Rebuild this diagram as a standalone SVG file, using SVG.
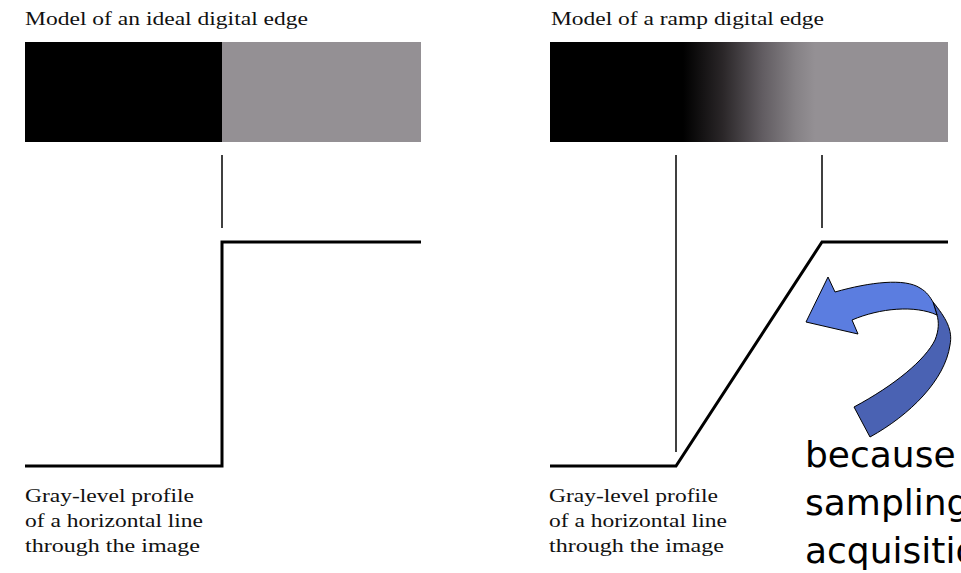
<svg xmlns="http://www.w3.org/2000/svg" width="961" height="573" viewBox="0 0 961 573">
<style>
.t{font-family:"Liberation Serif","Times New Roman",serif;font-size:19px;fill:#111}
.s{font-family:"DejaVu Sans",Verdana,sans-serif;font-size:36px;fill:#000}
.thin{stroke:#000;stroke-width:1.5;fill:none}
.prof{stroke:#000;stroke-width:3;fill:none;stroke-linejoin:miter}
</style>
<defs>
<linearGradient id="ramp" gradientUnits="userSpaceOnUse" x1="683" y1="0" x2="815" y2="0">
<stop offset="0" stop-color="#000"/>
<stop offset="0.3" stop-color="#2a2628"/>
<stop offset="0.6" stop-color="#615c61"/>
<stop offset="0.85" stop-color="#858185"/>
<stop offset="1" stop-color="#949094"/>
</linearGradient>
</defs>
<rect width="961" height="573" fill="#fff"/>
<g id="ideal">
<text class="t" x="25" y="25" textLength="283" lengthAdjust="spacingAndGlyphs">Model of an ideal digital edge</text>
<rect x="25" y="42" width="197" height="100" fill="#000"/>
<rect x="222" y="42" width="199" height="100" fill="#949094"/>
<text class="t" x="25" y="502" textLength="169" lengthAdjust="spacingAndGlyphs">Gray-level profile</text>
<text class="t" x="25" y="527" textLength="178" lengthAdjust="spacingAndGlyphs">of a horizontal line</text>
<text class="t" x="25" y="552" textLength="175" lengthAdjust="spacingAndGlyphs">through the image</text>
</g>
<g id="ramp-edge">
<text class="t" x="551" y="25" textLength="273" lengthAdjust="spacingAndGlyphs">Model of a ramp digital edge</text>
<rect x="550" y="42" width="398" height="100" fill="url(#ramp)"/>
<text class="t" x="549" y="502" textLength="169" lengthAdjust="spacingAndGlyphs">Gray-level profile</text>
<text class="t" x="549" y="527" textLength="178" lengthAdjust="spacingAndGlyphs">of a horizontal line</text>
<text class="t" x="549" y="552" textLength="175" lengthAdjust="spacingAndGlyphs">through the image</text>
</g>
<g id="connectors">
<line class="thin" x1="222" y1="155" x2="222" y2="228"/>
<polyline class="prof" points="25,466 222,466 222,242 421,242"/>
<line class="thin" x1="676" y1="155" x2="676" y2="452"/>
<line class="thin" x1="822" y1="155" x2="822" y2="228"/>
<polyline class="prof" points="550,466 676,466 822,242 948,242"/>
</g>
<g id="arrow" stroke="#000" stroke-width="1" stroke-linejoin="round">
<path d="M933,302 C946,318 953,330 950,345 C945,380 910,415 870,437 L854,407 C895,385 925,360 935,340 C939,330 939,322 937,315 Z" fill="#4a62b3"/>
<path d="M806,322 L828,277 L835,292 C870,282 905,278 920,288 C927,292 930,297 933,302 L937,315 C915,305 880,308 852,320 L858,334 Z" fill="#5b7de0"/>
</g>
<g id="note">
<text class="s" x="805" y="467">because</text>
<text class="s" x="805" y="515">sampling</text>
<text class="s" x="805" y="563">acquisition</text>
</g>
</svg>
